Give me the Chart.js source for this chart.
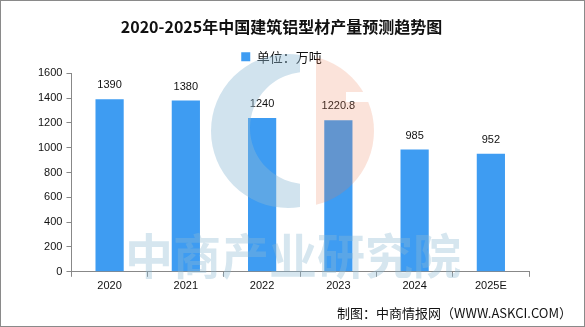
<!DOCTYPE html>
<html>
<head>
<meta charset="utf-8">
<script src="https://cdn.jsdelivr.net/npm/chart.js@4/dist/chart.umd.min.js"></script>
<style>
  html, body { margin: 0; padding: 0; background: #fff; }
  #wrap { width: 585px; height: 327px; }
</style>
</head>
<body>
<div id="wrap"><canvas id="grafica" width="585" height="327"></canvas></div>
<script>
// datos
const years = ["2020", "2021", "2022", "2023", "2024", "2025E"];
const output = [1390, 1380, 1240, 1220.8, 985, 952];
const yTicks = [0, 200, 400, 600, 800, 1000, 1200, 1400, 1600];

const fuente = "'Liberation Sans', 'Noto Sans CJK SC', sans-serif";

// valores encima de cada barra
const etiquetas = {
  id: "etiquetas",
  afterDatasetsDraw(chart) {
    const ctx = chart.ctx;
    const meta = chart.getDatasetMeta(0);
    ctx.save();
    ctx.font = "11px " + fuente;
    ctx.fillStyle = "#111";
    ctx.textAlign = "center";
    ctx.textBaseline = "middle";
    meta.data.forEach((bar, i) => {
      ctx.fillText(String(output[i]), bar.x, bar.y - 14);
    });
    ctx.restore();
  }
};

// marca de agua, pie y borde
const fondo = {
  id: "fondo",
  afterDraw(chart) {
    const ctx = chart.ctx;

    // logo: parte azul
    ctx.save();
    ctx.globalAlpha = 0.4;
    ctx.fillStyle = "rgb(140,185,212)";
    ctx.beginPath();
    ctx.rect(0, 0, 300, 327);
    ctx.clip();
    ctx.beginPath();
    ctx.arc(288, 131, 77, 0, Math.PI * 2);
    ctx.arc(306, 128, 56, 0, Math.PI * 2);
    ctx.fill("evenodd");
    ctx.restore();

    // logo: parte naranja
    ctx.save();
    ctx.globalAlpha = 0.21;
    ctx.fillStyle = "rgb(238,124,80)";
    ctx.beginPath();
    ctx.rect(316, 0, 200, 92);
    ctx.rect(316, 102, 200, 200);
    ctx.rect(316, 92, 30, 10);
    ctx.clip();
    ctx.beginPath();
    ctx.arc(298, 131, 76, 0, Math.PI * 2);
    ctx.fill();
    ctx.restore();

    // texto de la marca de agua
    ctx.save();
    ctx.globalAlpha = 0.36;
    ctx.fillStyle = "rgb(140,185,212)";
    ctx.font = "bold 48px 'Noto Sans CJK SC', sans-serif";
    ctx.textAlign = "center";
    ctx.textBaseline = "middle";
    ctx.fillText("中商产业研究院", 293, 256);
    ctx.restore();

    ctx.save();
    ctx.font = "13px 'Noto Sans CJK SC', sans-serif";
    ctx.fillStyle = "#111";
    ctx.textAlign = "right";
    ctx.textBaseline = "middle";
    ctx.fillText("制图：中商情报网（WWW.ASKCI.COM）", 572, 313);
    ctx.strokeStyle = "#8a8a8a";
    ctx.lineWidth = 1;
    ctx.strokeRect(0.5, 0.5, chart.width - 1, chart.height - 1);
    ctx.restore();
  }
};

const miCanvas = document.getElementById("grafica").getContext("2d");

new Chart(miCanvas, {
  type: "bar",
  data: {
    labels: years,
    datasets: [{
      label: "单位：万吨",
      data: output,
      backgroundColor: "#3e9cf2",
      barPercentage: 0.37,
      categoryPercentage: 1
    }]
  },
  options: {
    responsive: false,
    animation: false,
    layout: { padding: { left: 34, right: 56, top: 17, bottom: 31 } },
    plugins: {
      title: {
        display: true,
        text: "2020-2025年中国建筑铝型材产量预测趋势图",
        color: "#111",
        font: { family: "'Noto Sans CJK SC', sans-serif", size: 16, weight: "bold" },
        padding: { top: 0, bottom: 9 }
      },
      legend: {
        display: true,
        position: "top",
        labels: {
          color: "#111",
          font: { family: "'Noto Sans CJK SC', sans-serif", size: 13 },
          boxWidth: 9,
          boxHeight: 9,
          padding: 5
        }
      },
      tooltip: { enabled: false }
    },
    scales: {
      x: {
        grid: { display: true, drawOnChartArea: false, offset: true, tickLength: 5, color: "#888" },
        border: { color: "#888" },
        ticks: { color: "#111", font: { family: fuente, size: 11 }, padding: 3 }
      },
      y: {
        min: 0,
        max: 1600,
        afterBuildTicks(axis) { axis.ticks = yTicks.map(v => ({ value: v })); },
        grid: { display: true, drawOnChartArea: false, tickLength: 5, color: "#888" },
        border: { color: "#888" },
        ticks: {
          color: "#111",
          font: { family: fuente, size: 11 },
          padding: 4,
          callback: v => String(v)
        }
      }
    }
  },
  plugins: [etiquetas, fondo]
});
</script>
</body>
</html>
